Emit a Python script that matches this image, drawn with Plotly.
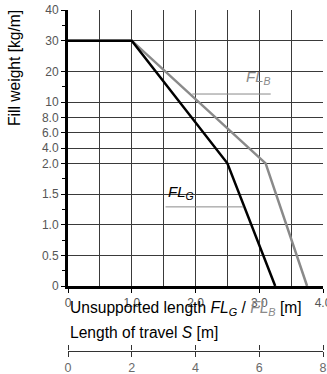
import plotly.graph_objects as go

# ---- data ----
flg_x = [0, 1.0, 2.5, 3.25]
flg_y = [30, 30, 2.0, 0]
flb_x = [0, 1.0, 3.1, 3.75]
flb_y = [30, 30, 2.0, 0]

y_tick_values = [0, 0.5, 1.0, 1.5, 2.0, 4.0, 6.0, 8.0, 10, 20, 30, 40]
y_tick_labels = ['0', '0.5', '1.0', '1.5', '2.0', '4.0', '6.0', '8.0', '10', '20', '30', '40']
y_minor_values = [0.25, 0.75, 1.25, 1.75, 15, 35]
x_tick_values = [0, 1, 2, 3, 4]
x_tick_labels = ['0', '1.0', '2.0', '3.0', '4.0']
travel_ticks = [0, 2, 4, 6, 8]
travel_labels = ['0', '2', '4', '6', '8']


def ypos(v):
    """Piecewise scale of the reference's fill weight axis."""
    if v <= 2:
        return 2 * v
    if v <= 10:
        return 4 + (v - 2) / 4
    return 6 + (v - 10) / 10


FONT = "Liberation Sans, Arial, sans-serif"
GRID = "#3a3a3a"
GREY = "#8a8a8a"
PLOT_H = 341.0
TITLE_SIZE = 15.6
TRAVEL_RANGE = [0, 8]

fig = go.Figure()
fig.add_trace(go.Scatter(x=flb_x, y=[ypos(v) for v in flb_y], mode="lines",
                         line=dict(color=GREY, width=2.5), xaxis="x", yaxis="y",
                         hoverinfo="skip"))
fig.add_trace(go.Scatter(x=flg_x, y=[ypos(v) for v in flg_y], mode="lines",
                         line=dict(color="#000000", width=2.5), xaxis="x", yaxis="y",
                         hoverinfo="skip"))
fig.add_trace(go.Scatter(x=[1, 7], y=[0.5, 0.5], mode="lines", line=dict(width=0),
                         xaxis="x2", yaxis="y2", hoverinfo="skip"))
fig.add_trace(go.Scatter(x=[1, 7], y=[0.5, 0.5], mode="lines", line=dict(width=0),
                         xaxis="x3", yaxis="y3", hoverinfo="skip"))

# The figure is a little wider than the 327px window so that labels at the
# right edge are not hidden by plotly; the window crops them like the reference.
fig.update_layout(
    width=340, height=374,
    margin=dict(l=68, r=17, t=10, b=23),
    paper_bgcolor="white", plot_bgcolor="white",
    showlegend=False,
    font=dict(family=FONT, color="#000000"),
    xaxis=dict(
        domain=[0, 1], anchor="y", range=[0, 4],
        tickmode="array", tickvals=x_tick_values, ticktext=x_tick_labels,
        ticks="outside", ticklen=4, tickcolor="#000", tickwidth=1,
        tickfont=dict(size=12, color="#555555"), ticklabeloverflow="allow",
        showgrid=True, gridcolor=GRID, gridwidth=1,
        minor=dict(dtick=0.5, tick0=0, showgrid=True, gridcolor=GRID, gridwidth=1, ticks=""),
        showline=True, linecolor="#000000", linewidth=3, zeroline=False,
        automargin=False,
    ),
    yaxis=dict(
        domain=[65 / PLOT_H, 1], anchor="x", range=[0, 9],
        tickmode="array", tickvals=[ypos(v) for v in y_tick_values], ticktext=y_tick_labels,
        ticks="outside", ticklen=4, tickcolor="#000", tickwidth=1,
        tickfont=dict(size=12, color="#555555"),
        showgrid=True, gridcolor=GRID, gridwidth=1,
        minor=dict(tickmode="array", tickvals=[ypos(v) for v in y_minor_values],
                   ticks="outside", ticklen=3, tickcolor="#000", showgrid=False),
        showline=True, linecolor="#000000", linewidth=3, zeroline=False,
        automargin=False,
    ),
    # Length of travel axis: lower half of the tick marks and labels
    xaxis2=dict(
        domain=[0, 1], anchor="y2", range=TRAVEL_RANGE, autorange=False,
        tickmode="array", tickvals=travel_ticks, ticktext=travel_labels,
        ticks="outside", ticklen=5, tickcolor="#333", tickwidth=1,
        tickfont=dict(size=12.5, color="#6a6a6a"), ticklabeloverflow="allow",
        showgrid=False,
        showline=True, linecolor="#333333", linewidth=1, zeroline=False,
        automargin=False,
    ),
    yaxis2=dict(domain=[0, 1 / PLOT_H], anchor="x2", range=[0, 1], visible=False),
    # upper half of the tick marks (separate tiny subplot just above)
    xaxis3=dict(
        domain=[0, 1], anchor="y3", side="top", range=TRAVEL_RANGE, autorange=False,
        tickmode="array", tickvals=travel_ticks,
        ticks="outside", ticklen=5, tickcolor="#333", tickwidth=1,
        showticklabels=False, showgrid=False, showline=False, zeroline=False,
        automargin=False,
    ),
    yaxis3=dict(domain=[0, 0.5 / PLOT_H], anchor="x3", range=[0, 1], visible=False),
)

annotations = [
    dict(text="Unsupported length <i>FL<sub>G</sub></i> / <i><span style='color:%s'>FL<sub>B</sub></span></i> [m]" % GREY,
         xref="paper", yref="paper", x=0, y=(351 - 308) / PLOT_H, xanchor="left", yanchor="middle",
         showarrow=False, font=dict(size=TITLE_SIZE, color="#000000")),
    dict(text="Length of travel <i>S</i> [m]",
         xref="paper", yref="paper", x=0, y=(351 - 332) / PLOT_H, xanchor="left", yanchor="middle",
         showarrow=False, font=dict(size=TITLE_SIZE, color="#000000")),
    dict(text="Fill weight [kg/m]", textangle=-90,
         xref="paper", yref="paper", x=(15 - 68) / 255.0, y=(351 - 68) / PLOT_H,
         xanchor="center", yanchor="middle", showarrow=False,
         font=dict(size=TITLE_SIZE, color="#000000")),
    dict(text="<i>FL<sub>B</sub></i>", xref="x", yref="y", x=2.76, y=6.8,
         xanchor="left", yanchor="middle", showarrow=False,
         font=dict(size=15, color=GREY)),
    dict(text="<i>FL<sub>G</sub></i>", xref="x", yref="y", x=1.54, y=3.05,
         xanchor="left", yanchor="middle", showarrow=False,
         font=dict(size=15, color="#000000")),
]
fig.update_layout(annotations=annotations)

fig.add_shape(type="line", xref="x", yref="y", x0=1.95, x1=3.18, y0=6.26, y1=6.26,
              line=dict(color=GREY, width=1))
fig.add_shape(type="line", xref="x", yref="y", x0=1.53, x1=2.75, y0=2.58, y1=2.58,
              line=dict(color=GREY, width=1))

fig.write_html("out.html",
               config={"displayModeBar": False, "staticPlot": True, "responsive": False},
               post_script="document.body.style.margin='0';document.body.style.padding='0';"
                           "document.body.style.overflow='hidden';")
